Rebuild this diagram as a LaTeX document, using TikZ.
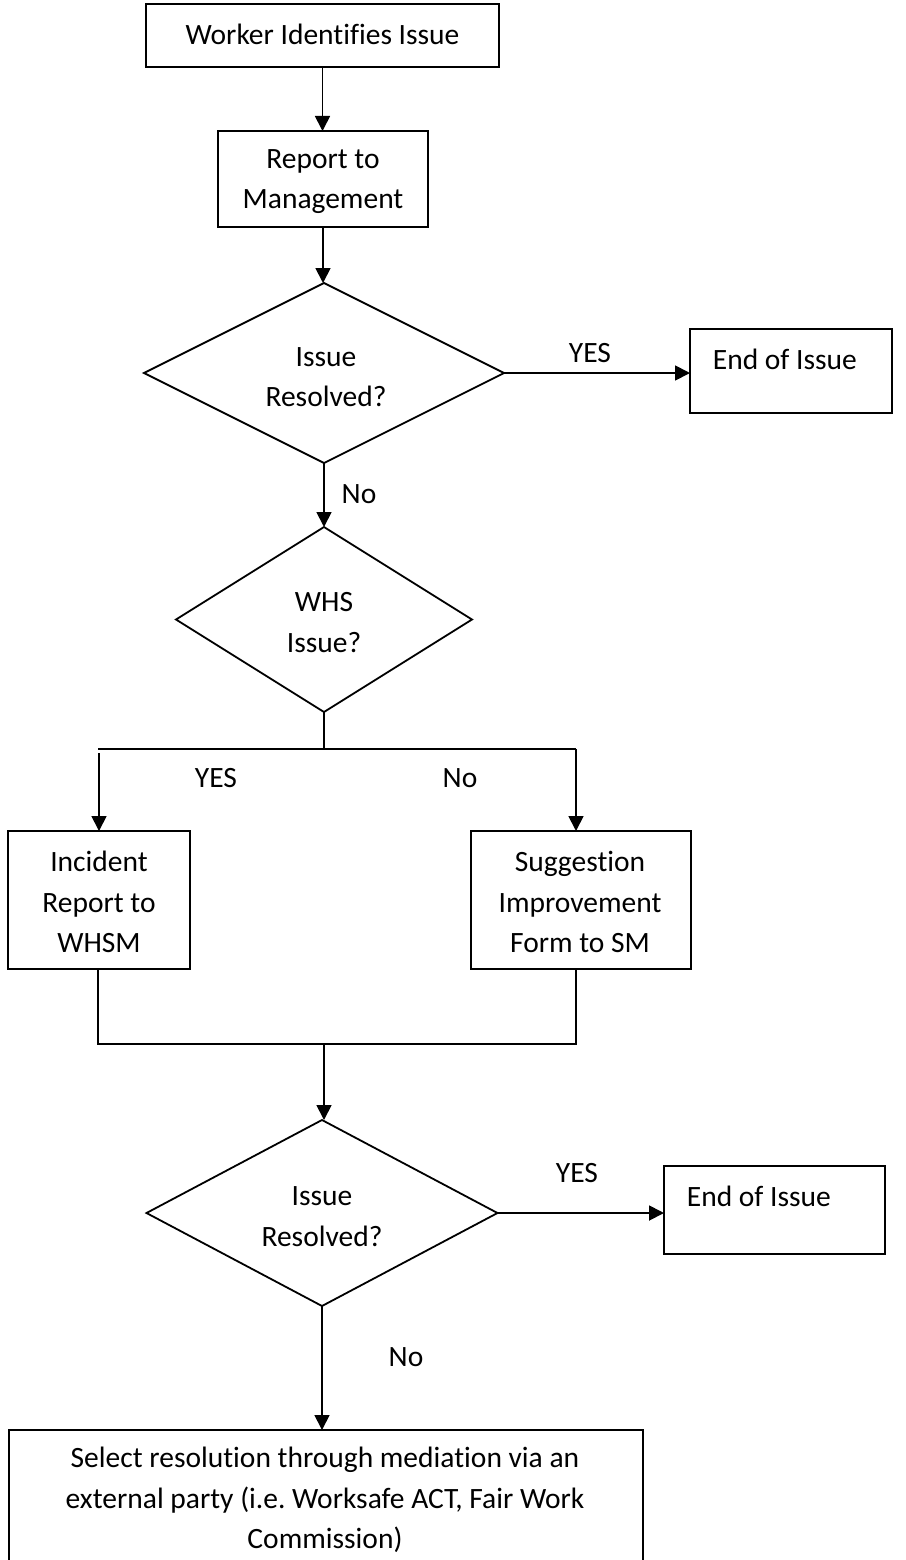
\documentclass[tikz,border=0pt]{standalone}
\usepackage{fontspec}
\setmainfont{Carlito}[RawFeature=-liga]
\frenchspacing
\usetikzlibrary{shapes.geometric,arrows.meta}
\begin{document}
\begin{tikzpicture}[x=1pt,y=-1pt,
  line width=1.8pt,
  proc/.style 2 args={draw, rectangle, minimum width=#1, minimum height=#2,
    inner sep=0pt, outer sep=0pt},
  decision/.style 2 args={draw, diamond, minimum width=#1, minimum height=#2,
    inner sep=0pt, outer sep=0pt},
  txt/.style={font=\fontsize{29.5}{40.5}\selectfont, align=center, inner sep=0pt},
  flow/.style={-{Triangle[length=15pt,width=15pt]}}]
\useasboundingbox (0,0) rectangle (905,1560);
\clip (0,0) rectangle (905,1560);
\fill[white] (0,0) rectangle (905,1560);

% first report and decision
\node[proc={353}{63}] (worker) at (322.5,35.5) {};
\node[txt] (workerT) at (322.5,34) {Worker Identifies Issue};
\node[proc={210}{96}] (report) at (323,179) {};
\node[txt] (reportT) at (323,181.5) {Report to\\Management};
\node[decision={360}{180}] (q1) at (324,373) {};
\node[txt] (q1T) at (326,377) {Issue\\Resolved?};
\node[proc={202}{84}] (end1) at (791,371) {};
\node[txt, anchor=west] (end1T) at (712,359) {End of Issue};
\node[txt] (yes1) at (590,353) {YES};
\node[txt] (no1) at (359,494) {No};

% WHS branch
\node[decision={296}{185}] (whs) at (324,619.5) {};
\node[txt] (whsT) at (324,622.5) {WHS\\Issue?};
\coordinate (split) at (324,749);
\coordinate (splitL) at (98,749);
\coordinate (splitR) at (576,749);
\coordinate (dropL) at (99,753);
\node[proc={182}{138}] (incident) at (99,900) {};
\node[txt] (incidentT) at (99,902) {Incident\\Report to\\WHSM};
\node[proc={220}{138}] (suggest) at (581,900) {};
\node[txt] (suggestT) at (580,902) {Suggestion\\Improvement\\Form to SM};
\node[txt] (yes2) at (216,778) {YES};
\node[txt] (no2) at (460,778) {No};
\coordinate (joinL) at (98,1044);
\coordinate (joinR) at (576,1044);
\coordinate (join) at (324,1044);

% second decision and escalation
\node[decision={351}{186}] (q2) at (322,1213) {};
\node[txt] (q2T) at (322,1216.5) {Issue\\Resolved?};
\node[proc={221}{88}] (end2) at (774.5,1210) {};
\node[txt, anchor=west] (end2T) at (686,1196) {End of Issue};
\node[txt] (yes3) at (577,1173) {YES};
\node[txt] (no3) at (406,1357) {No};
\node[proc={634}{160}] (final) at (326,1510) {};
\node[txt] (finalT) at (325,1500) {Select resolution through mediation via an\\external party (i.e. Worksafe ACT, Fair Work\\Commission)};

% connectors
\draw[flow] (worker.south) -- (worker.south |- report.north);
\draw[flow] (report.south) -- (report.south |- q1.north);
\draw[flow] (q1.east) -- (q1.east -| end1.west);
\draw[flow] (q1.south) -- (whs.north);
\draw (whs.south) -- (split);
\draw (splitL) -- (splitR);
\draw[flow] (dropL) -- (dropL |- incident.north);
\draw[flow] (splitR) -- (splitR |- suggest.north);
\draw (incident.south -| joinL) -- (joinL) -- (joinR) -- (suggest.south -| joinR);
\draw[flow] (join) -- (join |- q2.north);
\draw[flow] (q2.east) -- (q2.east -| end2.west);
\draw[flow] (q2.south) -- (q2.south |- final.north);
\end{tikzpicture}
\end{document}
